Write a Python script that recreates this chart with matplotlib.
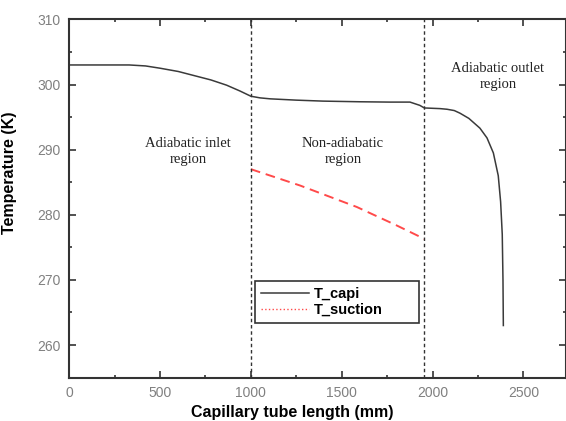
import matplotlib
matplotlib.use('Agg')
import matplotlib.pyplot as plt
from matplotlib.lines import Line2D
from matplotlib.ticker import MultipleLocator

# T_capi along the tube
capi_x = [0, 330, 420, 500, 600, 683, 780, 866, 940, 1000, 1050, 1106, 1250, 1397,
          1600, 1765, 1876, 1930, 1955, 2041, 2080, 2120, 2151, 2200, 2261, 2300,
          2335, 2362, 2375, 2384, 2388, 2390]
capi_y = [303.0, 303.0, 302.85, 302.5, 302.0, 301.4, 300.7, 299.9, 299.0, 298.2,
          297.95, 297.8, 297.6, 297.45, 297.35, 297.3, 297.3, 296.8, 296.4, 296.3,
          296.2, 296.0, 295.6, 294.8, 293.3, 291.8, 289.5, 286.0, 282.0, 277.0,
          270.0, 263.0]

# T_suction in the non-adiabatic part
suction_x = [1000, 1270, 1583, 1800, 1955]
suction_y = [287.0, 284.5, 281.2, 278.4, 276.3]

region_edges = [1000, 1955]
region_labels = ['Adiabatic inlet\nregion', 'Non-adiabatic\nregion', 'Adiabatic outlet\nregion']
region_pos = [(655, 289.7), (1507, 289.7), (2360, 301.3)]

fig = plt.figure(figsize=(5.66, 4.21), dpi=100)
ax = fig.add_axes([0.1224, 0.103, 0.8776, 0.851])

ax.plot(capi_x, capi_y, color='#3a3a3a', lw=1.1)
ax.plot(suction_x, suction_y, color='#ff4a4a', lw=1.4, linestyle=(0, (5, 3)))
for xe in region_edges:
    ax.axvline(xe, color='#333333', lw=1.0, linestyle=(0, (2.5, 2)))

for txt, (tx, ty) in zip(region_labels, region_pos):
    ax.text(tx, ty, txt, ha='center', va='center', fontsize=10.5,
            family='Liberation Serif', color='#222222', linespacing=1.3)

ax.set_xlim(0, 2735)
ax.set_ylim(255, 310)
ax.xaxis.set_major_locator(MultipleLocator(500))
ax.xaxis.set_minor_locator(MultipleLocator(250))
ax.yaxis.set_major_locator(MultipleLocator(10))
ax.yaxis.set_minor_locator(MultipleLocator(5))
ax.tick_params(which='both', direction='in', top=True, right=True,
               labelsize=10, labelcolor='#808080', color='#333333', width=1.2)
ax.tick_params(which='major', length=5, pad=6)
ax.tick_params(which='minor', length=2.5)
for lab in ax.get_xticklabels() + ax.get_yticklabels():
    lab.set_family('Liberation Sans')
for sp in ax.spines.values():
    sp.set_linewidth(1.5)
    sp.set_color('#333333')

ax.set_xlabel('Capillary tube length (mm)', fontsize=11.5, fontweight='bold',
              family='Liberation Sans')
ax.set_ylabel('Temperature (K)', fontsize=11.5, fontweight='bold',
              family='Liberation Sans')
ax.xaxis.set_label_coords(0.449, -0.075)
ax.yaxis.set_label_coords(-0.106, 0.571)

handles = [Line2D([], [], color='#3a3a3a', lw=1.1),
           Line2D([], [], color='#ff4a4a', lw=1.0, linestyle=':')]
leg = ax.legend(handles, ['T_capi', 'T_suction'], loc='center',
                bbox_to_anchor=(0.374, 0.132, 0.33, 0.158), mode='expand',
                prop={'family': 'Liberation Sans', 'weight': 'bold', 'size': 10.5},
                handlelength=3.3, fancybox=False, framealpha=1, borderaxespad=0,
                labelspacing=0.15, handletextpad=0.3)
leg.get_frame().set_edgecolor('#333333')
leg.get_frame().set_linewidth(1.2)

fig.savefig('out.png', dpi=100)
